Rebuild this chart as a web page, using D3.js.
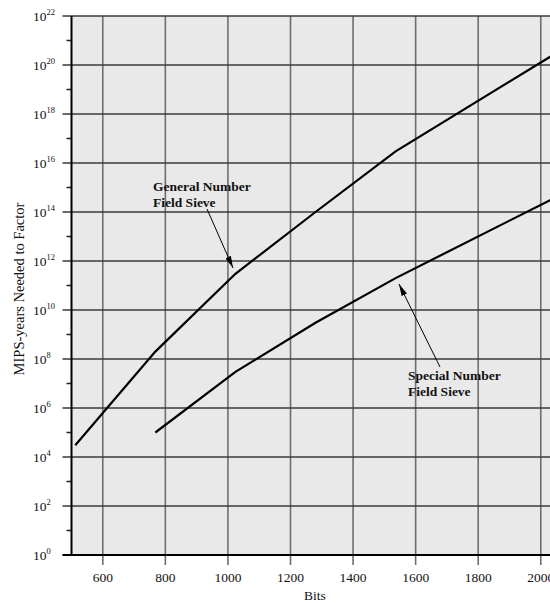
<!DOCTYPE html>
<html><head><meta charset="utf-8">
<script src="https://cdn.jsdelivr.net/npm/d3@7/dist/d3.min.js"></script>
<style>body{margin:0;background:#fff}svg{display:block}</style>
</head><body>
<svg id="chart" width="550" height="603"></svg>
<script>
const gnfsBits = [512, 768, 1024, 1280, 1536, 2048];
const gnfsMips = [3e4, 2e8, 3e11, 1e14, 3e16, 3e20];
const snfsBits = [768, 1024, 1280, 1536, 2048];
const snfsMips = [1e5, 3e7, 3e9, 2e11, 4e14];
const xTicks = [600, 800, 1000, 1200, 1400, 1600, 1800, 2000];
const yMajor = [0, 2, 4, 6, 8, 10, 12, 14, 16, 18, 20, 22];
const yMinor = [1, 3, 5, 7, 9, 11, 13, 15, 17, 19, 21];

const svg = d3.select("#chart");
const L = 71.5, T = 16, B = 555;
const x = d3.scaleLinear().domain([500, 2050]).range([L, L + 1550 * 0.31285]);
const y = d3.scaleLog().domain([1, 1e22]).range([B, T]);
const R = x(2050);
const font = "'Liberation Serif','Times New Roman',serif";

svg.append("rect").attr("x", L).attr("y", T).attr("width", R - L).attr("height", B - T).attr("fill", "#e9e9e9");

// vertical grid
svg.append("g").selectAll("line").data(xTicks).join("line")
  .attr("x1", d => x(d)).attr("x2", d => x(d)).attr("y1", T).attr("y2", B + 10)
  .attr("stroke", "#6e6e6e").attr("stroke-width", 1.6);
// horizontal grid
svg.append("g").selectAll("line").data(yMajor).join("line")
  .attr("x1", L - 9).attr("x2", R).attr("y1", d => y(Math.pow(10, d))).attr("y2", d => y(Math.pow(10, d)))
  .attr("stroke", "#3a3a3a").attr("stroke-width", 1.5);
// minor ticks
svg.append("g").selectAll("line").data(yMinor).join("line")
  .attr("x1", L - 5).attr("x2", L).attr("y1", d => y(Math.pow(10, d))).attr("y2", d => y(Math.pow(10, d)))
  .attr("stroke", "#222").attr("stroke-width", 1.5);

// axes
svg.append("line").attr("x1", L).attr("x2", L).attr("y1", T).attr("y2", B).attr("stroke", "#000").attr("stroke-width", 2);
svg.append("line").attr("x1", L - 9).attr("x2", R).attr("y1", B).attr("y2", B).attr("stroke", "#000").attr("stroke-width", 2);

// x tick labels
svg.append("g").selectAll("text").data(xTicks).join("text")
  .attr("x", d => x(d)).attr("y", 582).attr("text-anchor", "middle")
  .attr("font-family", font).attr("font-size", 13.5).attr("fill", "#111").text(d => d);

// y tick labels
const yl = svg.append("g").selectAll("text").data(yMajor).join("text")
  .attr("x", 33).attr("y", d => y(Math.pow(10, d)) + 5)
  .attr("font-family", font).attr("font-size", 13.5).attr("fill", "#111");
yl.append("tspan").text("10");
yl.append("tspan").attr("font-size", 8.5).attr("dy", -6).text(d => d);

// titles
svg.append("text").attr("x", 315).attr("y", 600).attr("text-anchor", "middle")
  .attr("font-family", font).attr("font-size", 13.5).attr("fill", "#111").text("Bits");
svg.append("text").attr("transform", "translate(24,289) rotate(-90)").attr("text-anchor", "middle")
  .attr("font-family", font).attr("font-size", 14.5).attr("fill", "#111").text("MIPS-years Needed to Factor");

// curves
const line = d3.line().x(d => x(d[0])).y(d => y(d[1]));
svg.append("path").datum(d3.zip(gnfsBits, gnfsMips)).attr("d", line)
  .attr("fill", "none").attr("stroke", "#000").attr("stroke-width", 2.2);
svg.append("path").datum(d3.zip(snfsBits, snfsMips)).attr("d", line)
  .attr("fill", "none").attr("stroke", "#000").attr("stroke-width", 2.2);

// arrows
const defs = svg.append("defs");
defs.append("marker").attr("id", "ah").attr("viewBox", "0 0 12 6").attr("refX", 12).attr("refY", 3)
  .attr("markerWidth", 12).attr("markerHeight", 6).attr("markerUnits", "userSpaceOnUse").attr("orient", "auto")
  .append("path").attr("d", "M0,0 L12,3 L0,6 Z").attr("fill", "#000");
svg.append("line").attr("x1", 207).attr("y1", 209).attr("x2", 233).attr("y2", 268)
  .attr("stroke", "#000").attr("stroke-width", 1).attr("marker-end", "url(#ah)");
svg.append("line").attr("x1", 440).attr("y1", 367).attr("x2", 399).attr("y2", 284)
  .attr("stroke", "#000").attr("stroke-width", 1).attr("marker-end", "url(#ah)");

// annotations
const ann = (tx, ty, lines) => {
  const t = svg.append("text").attr("font-family", font).attr("font-size", 13.5).attr("font-weight", "bold").attr("fill", "#111");
  lines.forEach((s, i) => t.append("tspan").attr("x", tx).attr("y", ty + i * 16).text(s));
};
ann(153, 191, ["General Number", "Field Sieve"]);
ann(408, 380, ["Special Number", "Field Sieve"]);
</script>
</body></html>
